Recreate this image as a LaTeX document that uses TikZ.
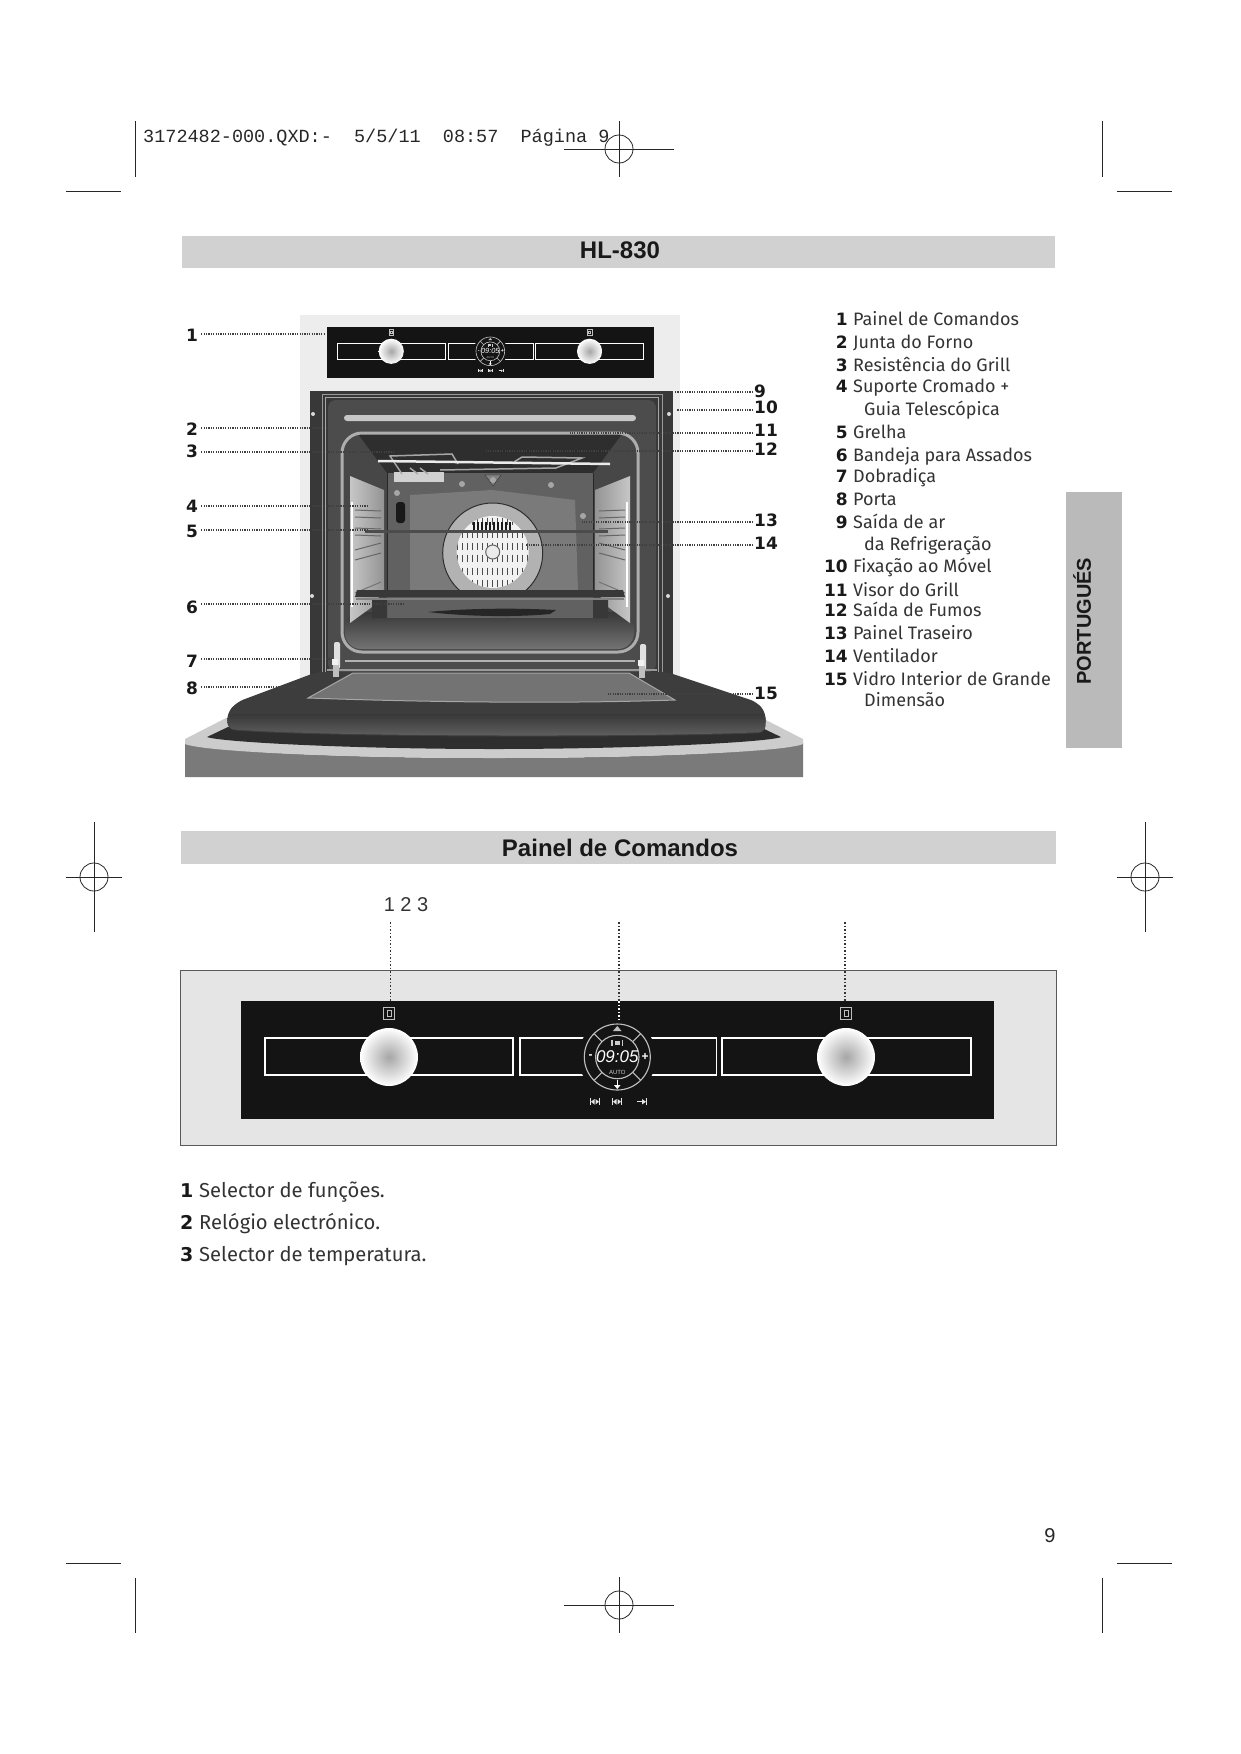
\documentclass[tikz,border=0pt]{standalone}
\usepackage{fontspec}
\usepackage{tikz}
\usetikzlibrary{calc}
\usetikzlibrary{positioning}
\setmainfont{Fira Sans}
\newfontfamily\numfont{DejaVu Sans}
\newfontfamily\headfont{Liberation Sans}
\newfontfamily\typefont{Liberation Mono}
\newcommand{\fs}[1]{\fontsize{#1}{#1}\selectfont}
\tikzset{leader/.style={line width=1.2pt,black!75,dash pattern=on 1.2pt off 1.2pt}}
\tikzset{crop/.style={line width=0.8pt,black!85}}
\tikzset{bar/.style={fill=black!18}}
\tikzset{title/.style={font=\headfont\bfseries\fs{24},text=black!90,inner sep=0pt}}
\tikzset{callout/.style={font=\numfont\bfseries\fs{17},text=black!90,inner sep=1pt}}
\tikzset{listnum/.style={font=\numfont\bfseries\fs{17},text=black!90,inner sep=0pt,anchor=base east}}
\tikzset{listtxt/.style={font=\fs{18},text=black!80,inner sep=0pt,anchor=base west}}
\tikzset{lownum/.style={font=\numfont\bfseries\fs{19},text=black!90,inner sep=0pt,anchor=base west}}
\tikzset{lowtxt/.style={font=\fs{20.2},text=black!80,inner sep=0pt,anchor=base west}}
% control panel: drawn once for the oven, once for the enlargement
\newcommand{\ctrlpanel}[4]{
\begin{scope}[shift={(#2)},xscale=#3,yscale=#3,every node/.append style={transform shape}]
\fill[black!92] (0,0) rectangle (753,118);
\foreach \a/\b in {24/272,279/475.5,481/730} {
	\draw[white,line width=#4] (\a,37) rectangle (\b,74);
}
\foreach \k in {148,605} {
	\shade[inner color=black!35,outer color=white] (\k,56) circle (29);
	\draw[black!25,line width=0.5*#4] (\k-5.5,6) rectangle (\k+5.5,18);
	\draw[black!25,line width=0.5*#4] (\k-2,9) rectangle (\k+2,15);
}
\fill[black!92] (376.3,56) circle (39);
\draw[black!25,line width=0.7*#4] (376.3,56) circle (33);
\draw[black!25,line width=0.7*#4] (376.3,56) circle (21.7);
\foreach \a in {45,135,225,315} {
	\draw[black!25,line width=0.7*#4] ($(376.3,56)+(\a:21.7)$) -- ($(376.3,56)+(\a:33)$);
}
\node[text=white,inner sep=0pt,font=\headfont\itshape\fs{17}] (#1time) at (376.3,56) {09:05};
\node[text=black!20,inner sep=0pt,font=\headfont\fs{6}] (#1auto) at (376.3,71) {AUTO};
\node[text=white,inner sep=0pt,font=\headfont\bfseries\fs{12}] (#1minus) at (349.5,56) {-};
\node[text=white,inner sep=0pt,font=\headfont\bfseries\fs{12}] (#1plus) at (404,56) {+};
\draw[black!20,line width=0.7*#4] (371,39) -- (371,45) (381.5,39) -- (381.5,45);
\fill[black!20] (373.5,40) rectangle (379,44);
\fill[black!25] (376.3,25) -- (372,30) -- (380.5,30) -- cycle;
\draw[white,line width=0.8*#4] (376.3,79) -- (376.3,87);
\fill[white] (373,84) -- (379.5,84) -- (376.3,88) -- cycle;
\foreach \b in {354,376} {
	\draw[black!10,line width=0.6*#4] (\b-4.5,97) -- (\b-4.5,104) (\b+4.5,97) -- (\b+4.5,104);
	\fill[black!10] (\b-4,100.7) -- (\b-0.5,98) -- (\b-0.5,103.5) -- cycle (\b+4,100.7) -- (\b+0.5,98) -- (\b+0.5,103.5) -- cycle;
}
\draw[black!10,line width=0.6*#4] (396,100.7) -- (404,100.7) (405,97) -- (405,104);
\fill[black!10] (405,100.7) -- (401,98) -- (401,103.5) -- cycle;
\end{scope}
}

\begin{document}
\begin{tikzpicture}[x=1pt,y=-1pt]
\useasboundingbox (0,0) rectangle (1241,1754);

% printer marks
\node[anchor=base west,inner sep=0pt,font=\typefont\fs{18.5},text=black!85] (slug) at (143,142) {3172482-000.QXD:-~~5/5/11~~08:57~~Página~9};
\foreach \y/\a/\b in {191/66/121,191/1117/1172,1563/66/121,1563/1117/1172} {
	\draw[crop] (\a,\y) -- (\b,\y);
}
\foreach \x/\a/\b in {135/121/177,1102/121/177,135/1578/1633,1102/1578/1633} {
	\draw[crop] (\x,\a) -- (\x,\b);
}
\foreach \x/\y/\w/\h in {619/149/55/28,94/877/28/55,1145/877/28/55,619/1605/55/28} {
	\draw[crop] (\x-\w,\y) -- (\x+\w,\y) (\x,\y-\h) -- (\x,\y+\h);
	\draw[crop] (\x,\y) circle (14);
}

% title bars
\fill[bar] (182,236) rectangle (1055,268);
\node[title] (hl) at (620,250) {HL-830};
\fill[bar] (181,831) rectangle (1056,864);
\node[title] (painel) at (620,848) {Painel de Comandos};
\fill[black!27] (1066,492) rectangle (1122,748);
\node[rotate=90,inner sep=0pt,font=\headfont\bfseries\fs{20},text=black!90] (lang) at (1082,621) {PORTUGUÉS};
\node[font=\headfont\fs{20},inner sep=0pt,text=black!85] (page) at (1050,1536) {9};

% oven
\fill[black!7] (300,315) rectangle (680,680);
\ctrlpanel{up}{327,327}{0.434}{0.9pt}
\fill[black!78] (310,391) rectangle (673,680);
\draw[black!40,line width=1pt] (322,672) -- (322,394.5) -- (662,394.5) -- (662,672);
\draw[black!35,line width=1pt] (325.5,672) -- (325.5,397.5) -- (658.5,397.5) -- (658.5,672);
\fill[black!70,rounded corners=8pt] (328,400) rectangle (656,672);
\fill[black!22,rounded corners=3pt] (344,415) rectangle (636,421);
\foreach \x/\y in {313/414,669/414,312/596,668/596} {
	\fill[black!15] (\x,\y) circle (2);
}
\fill[black!72,rounded corners=20pt] (342,433) rectangle (638,652);
\fill[black!82] (358,434) -- (622,434) -- (593,473) -- (387,473) -- cycle;
\shade[top color=black!78,bottom color=black!55,rounded corners=16pt] (345,612) rectangle (634,649);
\shade[left color=black!22,right color=black!42] (350,476) -- (384,490) -- (384,590) -- (372,607) -- (350,623) -- cycle;
\shade[left color=black!42,right color=black!22] (630,476) -- (595,490) -- (595,590) -- (608,607) -- (630,623) -- cycle;
\fill[black!62] (387,473) rectangle (593,618);
\draw[black!85,line width=1pt] (387,473) -- (387,590) (593,473) -- (593,590);
\fill[black!52] (410,495) -- (492,490) -- (575,500) -- (578,590) -- (410,590) -- cycle;
\fill[black!90,rounded corners=3pt] (396,502) rectangle (405,523);
\fill[black!18] (394,472) rectangle (444,482);
\draw[black!80,fill=black!50] (485,475) -- (501,475) -- (493,486) -- cycle;
\foreach \x/\y in {397/493,462/484,551/485,583/516,493/480} {
	\fill[black!35] (\x,\y) circle (3);
}
\foreach \y in {510,517,528,535} {
	\draw[black!60,line width=1pt] (355,\y) -- (381,\y+1);
	\draw[black!60,line width=1pt] (599,\y+1) -- (625,\y);
}
\foreach \y in {550,560} {
	\draw[black!60,line width=1pt] (355,\y) -- (381,\y-7);
	\draw[black!60,line width=1pt] (599,\y-7) -- (625,\y);
}
\draw[black!55,line width=1pt] (355,593) -- (381,582) (599,582) -- (625,593);
\draw[white,line width=1.5pt] (352,502) -- (352,607) (627,502) -- (627,607);

% fan
\begin{scope}
\clip (380,470) rectangle (600,591);
\draw[black!82,line width=1pt,fill=black!30] (492.7,553) circle (50);
\fill[black!5] (492.7,552) circle (36);
\clip (492.7,552) circle (36);
\foreach \y in {521,534,546,558,571,583} {
	\foreach \x in {457,462,...,530} {
		\draw[black!70,line width=0.8pt] (\x,\y-3.5) -- (\x,\y+3.5);
	}
}
\foreach \x in {474,478,...,510} {
	\draw[black!90,line width=1.5pt] (\x,522) -- (\x,530);
}
\draw[black!60,fill=black!8,line width=1pt] (492.7,552) circle (7);
\end{scope}

% rack, tray and grill
\draw[black!70,line width=3pt] (365,531) -- (608,531);
\fill[black!78] (372,600) rectangle (387,618) (593,600) rectangle (608,618);
\fill[black!78] (357,590) -- (623,590) -- (625,597) -- (355,597) -- cycle;
\draw[black!50,line width=2pt] (356,599) -- (624,599);
\fill[black!85] (428,612) .. controls (470,608) and (520,608) .. (556,610) -- (550,614) .. controls (520,617) and (470,617) .. (428,612);
\draw[black!35,line width=1.5pt] (402,474) -- (390,456) -- (452,454) -- (458,464) (514,462) -- (522,457) -- (582,458) -- (556,468) -- (440,470);
\draw[black!8,line width=2.5pt] (378,461) -- (610,464);
\draw[black!35,line width=1.5pt] (410,468) -- (418,474) (420,468) -- (428,474);

% cavity rim
\draw[black!32,line width=3pt,rounded corners=20pt] (342,433) rectangle (638,652);
\draw[black!30,line width=1.5pt] (345,661) -- (635,661);
\draw[black!40,line width=1.5pt] (327,670) -- (657,670);

% base and door
\fill[black!52] (185,742) .. controls (205,752) and (350,758) .. (494,758) .. controls (640,758) and (785,752) .. (803,742) -- (803,777) -- (185,777) -- cycle;
\fill[black!20] (185,739) -- (226,718) -- (762,718) -- (803,739) -- (803,744) .. controls (785,752) and (640,758) .. (494,758) .. controls (350,758) and (205,752) .. (185,744) -- cycle;
\fill[black!82] (207,737) -- (228,727) -- (760,727) -- (781,737) .. controls (770,742) and (640,749) .. (494,749) .. controls (350,749) and (220,742) .. (207,737) -- cycle;
\fill[black!76,rounded corners=7pt] (317,672) -- (667,672) -- (757,702) -- (766,713) -- (765,733) .. controls (650,738) and (330,738) .. (228,730) -- (227,713) -- (237,702) -- cycle;
\shade[top color=black!78,bottom color=black!62,rounded corners=6pt] (227,714) -- (766,714) -- (765,732) .. controls (650,737) and (330,737) .. (228,729) -- cycle;
\draw[black!35,line width=1pt,fill=black!55] (353,673) -- (629,673) -- (675,700) .. controls (560,704) and (420,702) .. (308,698) -- cycle;
\foreach \a/\t/\b in {332/642/677,638/644/678} {
	\fill[black!12,rounded corners=2pt] (\a+2,\t) rectangle (\a+8,\b-8);
	\fill[black!5] (\a,\b-18) rectangle (\a+6,\b-12);
	\fill[black!25] (\a+1,\b-12) rectangle (\a+7,\b);
}

% callouts on the left
\foreach \i/\y/\ly/\ex in {1/335/334/325,2/429/428/327,3/451/452/395,4/506/506/367,5/531/530/368,6/607/604/404,7/661/659/332,8/688/687/298} {
	\node[callout,inner sep=3pt] (l\i) at (192,\y) {\i};
	\coordinate (e\i) at (\ex,\ly);
	\draw[leader] (l\i.east |- e\i) -- (e\i);
}
% callouts on the right
\foreach \i/\y/\ly/\ex in {9/391/392/674,10/407/410/677,11/430/433/570,12/449/451/486,13/520/522/582,14/543/545/526,15/693/694/608} {
	\node[callout,anchor=west] (l\i) at (753,\y) {\i};
	\coordinate (e\i) at (\ex,\ly);
	\draw[leader] (l\i.west |- e\i) -- (e\i);
}

% parts list
\foreach \i/\y/\t in {1/325/Painel de Comandos,2/348.5/Junta do Forno,3/371/Resistência do Grill,4/392/Suporte Cromado +,5/438/Grelha,6/461.5/Bandeja para Assados,7/482/Dobradiça,8/505/Porta,9/528.5/Saída de ar,10/572/Fixação ao Móvel,11/596/Visor do Grill,12/616/Saída de Fumos,13/639/Painel Traseiro,14/662/Ventilador,15/685/Vidro Interior de Grande} {
	\node[listnum] (n\i) at (848,\y) {\i};
	\node[listtxt] (t\i) at (853,\y) {\t};
}
\foreach \i/\y/\t in {a/415.5/Guia Telescópica,b/550/da Refrigeração,c/706/Dimensão} {
	\node[listtxt] (t\i) at (864,\y) {\t};
}

% enlarged control panel
\draw[black!65,line width=1pt,fill=black!10] (180,970) rectangle (1056,1145);
\ctrlpanel{low}{241,1001}{1}{1.6pt}
\node[font=\headfont\fs{20},inner sep=0pt,text=black!80] (keys) at (406,905) {1 2 3};
\coordinate (k1) at (390.4,922);
\coordinate (k2) at (619,922);
\coordinate (k3) at (845,922);
\coordinate (p1) at (390.4,1001);
\coordinate (p2) at (619,1001);
\coordinate (p3) at (845,1001);
\coordinate (d2) at (619,1022);
\foreach \i in {1,2,3} {
	\draw[leader,black!80,line width=1.4pt,dash pattern=on 1.5pt off 2pt] (k\i) -- (p\i);
}
\draw[white,line width=1.4pt,dash pattern=on 1.5pt off 2pt] (p2) -- (d2);

% function list
\foreach \i/\y/\t in {1/1197/Selector de funções.,2/1229/Relógio electrónico.,3/1261/Selector de temperatura.} {
	\node[lownum] (m\i) at (180,\y) {\i};
	\node[lowtxt] (f\i) at (199,\y) {\t};
}
\end{tikzpicture}
\end{document}
